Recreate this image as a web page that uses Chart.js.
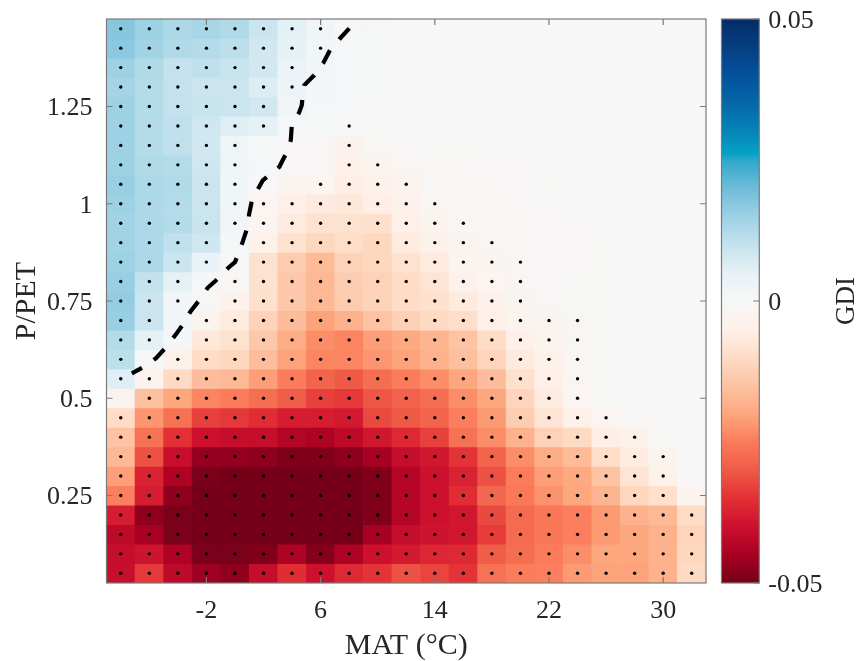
<!DOCTYPE html>
<html><head><meta charset="utf-8">
<script src="https://cdn.jsdelivr.net/npm/chart.js@4/dist/chart.umd.min.js"></script>
<style>html,body{margin:0;padding:0;background:#fff;width:862px;height:661px;overflow:hidden}
canvas{position:absolute;top:0}</style></head><body>
<canvas id="main" width="862" height="661" style="left:0"></canvas>
<canvas id="bar" width="162" height="661" style="left:700px"></canvas>
<script>
const matCentres=[-8,-6,-4,-2,0,2,4,6,8,10,12,14,16,18,20,22,24,26,28,30,32];
const ratioCentres=[1.45,1.4,1.35,1.3,1.25,1.2,1.15,1.1,1.05,1,0.95,0.9,0.85,0.8,0.75,0.7,0.65,0.6,0.55,0.5,0.45,0.4,0.35,0.3,0.25,0.2,0.15,0.1,0.05];
const xTickValues=[-2,6,14,22,30];
const yTickValues=[0.25,0.5,0.75,1,1.25];
const colourTickValues=[-0.05,0,0.05];
// GDI x 1000, top row first
const gdi=[
[17.5,15,13,13.5,12.5,9,5.5,2.5,1,0.5,0.3,0,0,0,0,0,0,0,0,0,0],
[17,14.5,12.5,12,11,8,5,2,0.7,0.3,0,0,0,0,0,0,0,0,0,0,0],
[15,12.5,10,10.5,9.5,8,3.5,1.5,0.5,0.3,0,0,0,0,0,0,0,0,0,0,0],
[14,12,10,9,9,6.5,3,1.2,0.5,0.2,0,0,0,0,0,0,0,0,0,0,0],
[15,12,10,9.5,9,8,2.5,1,0.5,0,0,0,0,0,0,0,0,0,0,0,0],
[15,12,10.5,8.5,6,5,1,0.2,-0.3,-0.2,-0.1,-0.1,-0.1,0,0,0,0,0,0,0,0],
[15,12,10.5,8,2.5,0.3,-0.5,-0.7,-3.5,-1,-0.5,-0.3,-0.2,-0.2,-0.1,0,0,0,0,0,0],
[15,12.5,12,8.5,2.5,0.5,-0.5,-1,-4.5,-3,-1.5,-0.8,-0.6,-0.5,-0.4,0,0,0,0,0,0],
[15.5,13,12.5,9,2,-0.5,-2,-2.5,-5.5,-4,-3,-1,-0.8,-0.7,-0.5,-0.3,0,0,0,0,0],
[15,13,12,9,2,-2.5,-5,-6.5,-7,-5.5,-4,-1.5,-1,-0.8,-0.7,-0.4,-0.3,-0.1,0,0,0],
[14.5,13,12,9.5,1.5,-2.5,-6.5,-8.5,-8.5,-9,-5,-3,-1.5,-1,-0.8,-0.4,-0.4,-0.1,0,0,0],
[14.5,13,10.5,8.5,1,-4.5,-8.5,-11,-9.5,-11,-6,-4,-2,-1.5,-1,-0.5,-0.4,-0.2,0,0,0],
[15,13,9,4,0.3,-8.5,-13.5,-16.5,-12,-11,-8.5,-6.5,-3,-2,-1.2,-0.5,-0.4,-0.2,0,0,0],
[15.5,10,5,0.5,-1,-8.5,-14,-17,-13,-12,-10,-8,-4,-2.5,-1.5,-0.5,-0.3,-0.2,0,0,0],
[16,9,1.5,-1,-4,-9,-14,-17,-13.5,-12,-10,-9,-6.5,-4,-2,-0.7,-0.3,-0.2,0,0,0],
[15.5,9,1.5,-3,-6.5,-12,-16,-20.5,-18,-15,-12.5,-10.5,-9.5,-5,-3,-2,-1,-0.2,0,0,0],
[12,5,0.5,-7,-8.5,-14,-19,-23,-24,-21,-19.5,-17.5,-15,-10,-5,-3,-1,-0.3,0,0,0],
[11,1,-4,-10,-11,-16,-20.5,-24,-24,-22,-20.5,-18,-15.5,-11.5,-6.5,-4,-1.5,-0.3,0,0,0],
[6,-3,-10.5,-16,-17,-21,-25,-28.5,-30,-27,-25,-23,-20,-16,-9,-5,-1.5,-0.3,0,0,0],
[-2,-15.5,-20,-24,-25,-27,-29.5,-33,-34,-30.5,-29,-27,-23,-20,-11.5,-6,-2.5,-0.2,-0.1,0,0],
[-10,-22,-26.5,-33,-34,-35.5,-38,-38,-38.5,-32,-30,-28.5,-24.5,-21.5,-13,-8,-4.5,-2.5,-1,0,0],
[-15,-26.5,-35,-40,-41,-41,-43.5,-44,-42,-39,-36,-33,-26.5,-23,-18,-12,-10.5,-5.5,-4,-0.3,0],
[-17,-31,-40.5,-47,-47,-47.5,-49,-49,-47.5,-45,-41,-39,-34.5,-28.5,-23,-19,-16.5,-9.5,-6,-2,0],
[-21,-37,-44,-49.5,-50,-50,-50,-50,-50,-49,-43,-40,-37,-31,-25,-21,-19.5,-15,-8,-4.5,-0.5],
[-24.5,-38,-47.5,-50,-50,-50,-50,-50,-50,-49,-43,-40,-35.5,-28,-25.5,-22.5,-20,-17.5,-11,-9,-3],
[-38,-47.5,-49.5,-50,-50,-50,-50,-50,-50,-49,-43,-40,-39,-32,-27.5,-25.5,-24.5,-21.5,-18,-17,-10],
[-42,-45,-49.5,-50,-50,-50,-50,-50,-50,-45,-41,-39.5,-39,-33.5,-27.5,-25.5,-24.5,-21.5,-20,-18,-11.5],
[-41,-39.5,-44,-49.5,-49.5,-49,-44,-48.5,-44,-40,-38.5,-36.5,-36,-29.5,-27,-25,-23,-20,-20,-18,-11],
[-40.5,-34,-42,-46,-47.5,-41,-35.5,-40,-36,-34.5,-31,-32.5,-34.5,-26.5,-25,-24.5,-21.5,-20.5,-20.5,-18,-10.5]
];
// significance stipple, top row first, one character per MAT column
const stipple=[
"11111111.............",
"11111111.............",
"1111111..............",
"1111111..............",
"111111...............",
"111111..1............",
"11111...1............",
"11111...11...........",
"11111..1111..........",
"111111111111.........",
"1111111111111........",
"1111.111111111.......",
"1111.1111111111......",
"111.11111111111......",
"111.11111111111......",
"11.11111111111111....",
"11.11111111111111....",
"1.111111111111111....",
"11111111111111111....",
".1111111111111111....",
"111111111111111111...",
"1111111111111111111..",
"11111111111111111111.",
"11111111111111111111.",
"11111111111111111111.",
"111111111111111111111",
"111111111111111111111",
"111111111111111111111",
"111111111111111111111"
];
const contourMat=[8.01,7.31,6.66,6.19,5.56,4.86,4.72,4.68,4.49,3.98,3.91,3.58,3.11,2.30,1.95,1.69,1.20,0.99,0.87,0.54,0.17,0,-0.42,-1.12,-1.91,-2.52,-3.10,-3.62,-4.20,-4.83,-5.53,-6.30,-7.23];
const contourRatio=[1.451,1.423,1.395,1.362,1.331,1.305,1.268,1.253,1.234,1.200,1.163,1.129,1.095,1.071,1.060,1.043,1.011,0.973,0.939,0.902,0.865,0.850,0.837,0.810,0.784,0.751,0.724,0.691,0.661,0.631,0.603,0.582,0.564];
const colourStops=[[-50,"#760018"],[-45,"#a80022"],[-40,"#cc102e"],[-35,"#e32f35"],[-30,"#ef5a47"],[-25,"#fb7b5a"],[-20,"#fda77f"],[-15,"#fdc3a3"],[-10,"#fedcc6"],[-5,"#fef0e8"],[0,"#f7f7f7"],[5,"#e6f1f6"],[10,"#c4e2ee"],[15,"#9dd1e4"],[20,"#6ebcd8"],[25,"#2fa8cb"],[26,"#05a3c7"],[30,"#0585b8"],[35,"#0468a8"],[40,"#04519c"],[45,"#063f80"],[50,"#042c66"]];

const FONT="'Liberation Serif','Times New Roman',serif", TXT="#262626", EDGE="#7a7a7a";
function rgb(h){return [1,3,5].map(i=>parseInt(h.substr(i,2),16));}
function colourOf(v){
  const s=colourStops; if(v<=s[0][0])return s[0][1]; 
  for(let i=1;i<s.length;i++){ if(v<=s[i][0]){const t=(v-s[i-1][0])/(s[i][0]-s[i-1][0]),a=rgb(s[i-1][1]),b=rgb(s[i][1]);
    return `rgb(${a.map((c,k)=>Math.round(c+(b[k]-c)*t)).join(",")})`;}}
  return s[s.length-1][1];
}
function noPad(s){s.paddingTop=0;s.paddingBottom=0;s.paddingLeft=0;s.paddingRight=0;}
Chart.defaults.animation=false; Chart.defaults.font.family=FONT;

const frame={id:"frame",afterDatasetsDraw(c){
  const a=c.chartArea,g=c.ctx,sx=c.scales.x,sy=c.scales.y; g.save(); g.strokeStyle=EDGE; g.lineWidth=1.2;
  g.strokeRect(a.left,a.top,a.right-a.left,a.bottom-a.top); g.beginPath(); const L=6;
  if(c.canvas.id==="main"){
    sx.ticks.forEach(t=>{const p=sx.getPixelForValue(t.value);g.moveTo(p,a.top);g.lineTo(p,a.top+L);g.moveTo(p,a.bottom);g.lineTo(p,a.bottom-L);});
    sy.ticks.forEach(t=>{const p=sy.getPixelForValue(t.value);g.moveTo(a.left,p);g.lineTo(a.left+L,p);g.moveTo(a.right,p);g.lineTo(a.right-L,p);});
  } else { sy.ticks.forEach(t=>{const p=sy.getPixelForValue(t.value);g.moveTo(a.right,p);g.lineTo(a.right-L,p);}); }
  g.stroke(); g.restore();
}};

const cellDatasets=ratioCentres.map((r,ri)=>({type:"bar",order:10,grouped:false,barPercentage:1,categoryPercentage:1,borderWidth:0,
  data:matCentres.map((m,ci)=>({x:m,y:[r-0.025,r+0.025]})),
  backgroundColor:matCentres.map((m,ci)=>colourOf(gdi[ri][ci]))}));
const dots=[];stipple.forEach((row,ri)=>[...row].forEach((ch,ci)=>{if(ch==="1")dots.push({x:matCentres[ci],y:ratioCentres[ri]});}));

new Chart(document.getElementById("main"),{type:"bar",plugins:[frame],
 data:{datasets:[
  {type:"line",order:0,data:contourMat.map((m,i)=>({x:m,y:contourRatio[i]})),borderColor:"#000",borderWidth:4.2,borderDash:[15,14.3],borderCapStyle:"butt",pointRadius:0,tension:0,fill:false},
  {type:"scatter",order:1,data:dots,pointRadius:1.7,pointBorderWidth:0,pointBackgroundColor:"#000",showLine:false},
  ...cellDatasets]},
 options:{responsive:false,events:[],layout:{padding:{top:19,right:156,left:0,bottom:0}},
  plugins:{legend:{display:false},tooltip:{enabled:false}},
  scales:{
   x:{type:"linear",min:-9,max:33,offset:false,grid:{display:false,offset:false,drawTicks:false},border:{display:false},
      afterBuildTicks(s){s.ticks=xTickValues.map(v=>({value:v}));},
      afterFit(s){s.height=78;noPad(s);},
      ticks:{padding:13,autoSkip:false,maxRotation:0,color:TXT,font:{size:26},callback:v=>String(v)},
      title:{display:true,text:"MAT (°C)",color:TXT,font:{size:30},padding:{top:0,bottom:-3}}},
   y:{type:"linear",min:0.025,max:1.475,grid:{display:false,drawTicks:false},border:{display:false},
      afterBuildTicks(s){s.ticks=yTickValues.map(v=>({value:v}));},
      afterFit(s){s.width=106.5;noPad(s);},
      ticks:{padding:14,autoSkip:false,labelOffset:2,color:TXT,font:{size:26},callback:v=>String(v)},
      title:{display:true,text:"P/PET",color:TXT,font:{size:30},padding:{top:9,bottom:0}}}
  }}});

const gdiTitle={id:"gdiTitle",afterDraw(c){const g=c.ctx;g.save();g.translate(147,301);g.rotate(-Math.PI/2);g.font="27px "+FONT;g.fillStyle=TXT;g.textAlign="center";g.textBaseline="middle";g.fillText("GDI",0,0);g.restore();}};
new Chart(document.getElementById("bar"),{type:"bar",plugins:[frame,gdiTitle],
 data:{labels:["GDI"],datasets:[{data:[[-0.05,0.05]],barPercentage:1,categoryPercentage:1,borderWidth:0,
   backgroundColor(ctx){const c=ctx.chart,a=c.chartArea;if(!a)return "#fff";const sy=c.scales.y,y0=sy.getPixelForValue(-0.05),y1=sy.getPixelForValue(0.05);
     const g=c.ctx.createLinearGradient(0,y0,0,y1);colourStops.forEach(s=>g.addColorStop((s[0]+50)/100,s[1]));return g;}}]},
 options:{responsive:false,events:[],layout:{padding:{top:19,left:21.5,right:0,bottom:0}},
  plugins:{legend:{display:false},tooltip:{enabled:false}},
  scales:{
   x:{display:true,grid:{display:false,drawTicks:false},border:{display:false},ticks:{display:false},afterFit(s){s.height=78;noPad(s);}},
   y:{position:"right",min:-0.05,max:0.05,grid:{display:false,drawTicks:false},border:{display:false},
      afterBuildTicks(s){s.ticks=colourTickValues.map(v=>({value:v}));},
      afterFit(s){s.width=102.7;noPad(s);},
      ticks:{padding:9,autoSkip:false,labelOffset:2,color:TXT,font:{size:26},callback:v=>String(v)}}
  }}});
</script></body></html>
